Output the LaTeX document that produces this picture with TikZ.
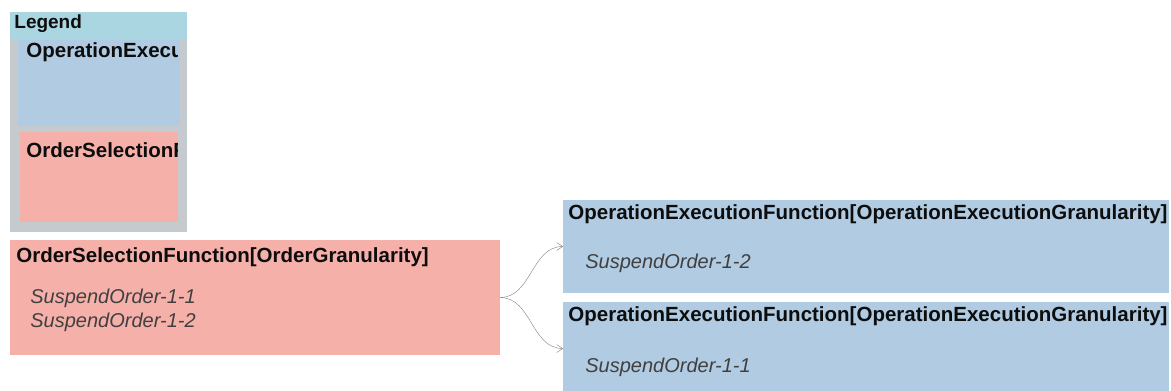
\documentclass[tikz,border=0pt]{standalone}
\usepackage{fontspec}
\setmainfont{Liberation Sans}
\usetikzlibrary{positioning,arrows.meta}

\definecolor{funcpink}{RGB}{246,176,170}
\definecolor{funcblue}{RGB}{176,203,226}
\definecolor{legendcyan}{RGB}{170,214,226}
\definecolor{legendgray}{RGB}{196,202,206}

\begin{document}
\begin{tikzpicture}[x=1pt, y=-1pt, thick]
    \tikzstyle{osfbox} = [rectangle, fill=funcpink, inner sep=0pt, outer sep=0pt]
    \tikzstyle{oefbox} = [rectangle, fill=funcblue, inner sep=0pt, outer sep=0pt]
    \tikzstyle{title} = [anchor=west, inner sep=0pt, text=black!95, font=\fontsize{20.5}{24}\selectfont\bfseries]
    \tikzstyle{instance} = [anchor=west, inner sep=0pt, text=black!75, font=\fontsize{20}{24}\selectfont\itshape]
    \tikzstyle{arrow} = [-{Straight Barb[length=6pt,width=8pt]}, black!50, thin]

    \clip (0,0) rectangle (1171,391);

    % legend
    \node [rectangle, fill=legendcyan, inner sep=0pt, minimum width=177pt, minimum height=220pt, anchor=north west] (legend) at (10,12) {};
    \node [rectangle, fill=legendgray, inner sep=0pt, minimum width=177pt, minimum height=192pt, anchor=south west] (legendframe) at (legend.south west) {};
    \node [oefbox, minimum width=162pt, minimum height=86pt, anchor=north west] (keyoef) at (18,40) {};
    \node [osfbox, minimum width=158pt, minimum height=90pt, anchor=north west] (keyosf) at (20,132) {};
    \node [title, font=\fontsize{19}{22}\selectfont\bfseries] (legendtitle) at (14,24) {Legend};
    \begin{scope}
        \clip (keyoef.north west) rectangle (177,232);
        \node [title] (keyoeftitle) at (26,52) {OperationExecutionFunction};
        \node [title] (keyosftitle) at (26,150) {OrderSelectionFunction};
    \end{scope}

    % functions
    \node [osfbox, minimum width=490pt, minimum height=115pt] (osf) at (255,297.5) {};
    \node [oefbox, minimum width=606pt, minimum height=93pt] (oefA) at (866,246.5) {};
    \node [oefbox, minimum width=606pt, minimum height=93pt] (oefB) at (866,348.5) {};

    \node [title] (osftitle) at ([xshift=6pt, yshift=-17pt]osf.north west) {OrderSelectionFunction[OrderGranularity]};
    \node [instance] (osfinst1) at ([xshift=20pt, yshift=-58pt]osf.north west) {SuspendOrder-1-1};
    \node [instance] (osfinst2) at ([xshift=20pt, yshift=-82pt]osf.north west) {SuspendOrder-1-2};

    \node [title] (oefAtitle) at ([xshift=5pt, yshift=-14pt]oefA.north west) {OperationExecutionFunction[OperationExecutionGranularity]};
    \node [instance] (oefAinst) at ([xshift=22pt, yshift=-63pt]oefA.north west) {SuspendOrder-1-2};

    \node [title] (oefBtitle) at ([xshift=5pt, yshift=-14pt]oefB.north west) {OperationExecutionFunction[OperationExecutionGranularity]};
    \node [instance] (oefBinst) at ([xshift=22pt, yshift=-65pt]oefB.north west) {SuspendOrder-1-1};

    \draw [arrow] (osf.east) to [out=0, in=180] (oefA.west);
    \draw [arrow] (osf.east) to [out=0, in=180] (oefB.west);
\end{tikzpicture}
\end{document}
